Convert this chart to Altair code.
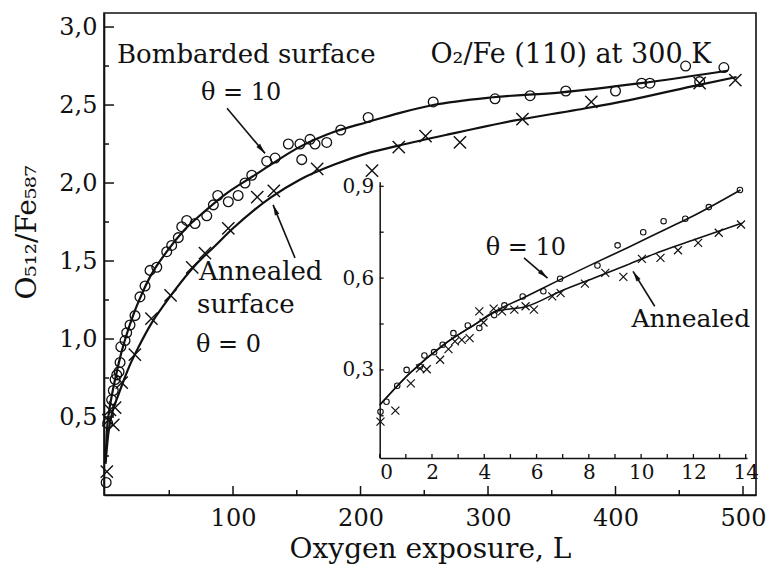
import altair as alt
import pandas as pd

FONT = "DejaVu Serif"
INK = "#111111"
W, H = 652, 482

# ---------- main panel: O512/Fe587 vs oxygen exposure (L) ----------
bomb_exposure = [0.5, 1.7, 4.8, 6.1, 7.5, 8.8, 10.6, 11.4, 12.0, 15.3, 16.6, 19.2, 23.1, 27, 31,
                 34.9, 40.2, 48, 51.9, 57.1, 59.8, 63.7, 70.2, 79.4, 84.6, 88, 96.3, 104, 109.4,
                 114.7, 126.4, 133, 143.4, 152.5, 153.9, 160.4, 164.3, 173.5, 184.5, 206, 257,
                 305.5, 333, 361, 400, 420.5, 427, 455, 466, 485]
bomb_ratio = [0.08, 0.46, 0.61, 0.67, 0.74, 0.77, 0.79, 0.85, 0.95, 0.99, 1.04, 1.09, 1.15, 1.27, 1.34,
              1.44, 1.46, 1.56, 1.60, 1.65, 1.72, 1.76, 1.74, 1.79, 1.86, 1.92, 1.88, 1.92, 2.00,
              2.05, 2.14, 2.16, 2.25, 2.25, 2.15, 2.28, 2.25, 2.26, 2.34, 2.42, 2.52,
              2.54, 2.56, 2.59, 2.59, 2.64, 2.64, 2.75, 2.65, 2.74]

ann_exposure = [1.0, 2.2, 3.5, 6.1, 7.5, 12.7, 23, 36, 51, 68, 78, 96.3, 119, 132, 166, 209,
                230, 251, 278, 327, 381, 466, 494]
ann_ratio = [0.15, 0.48, 0.545, 0.45, 0.56, 0.72, 0.90, 1.13, 1.28, 1.46, 1.55, 1.71, 1.91, 1.95,
             2.09, 2.08, 2.23, 2.30, 2.26, 2.41, 2.52, 2.64, 2.66]

bomb_fit_exposure = [0, 1, 2.5, 5, 8, 12, 17, 22, 28, 35, 48, 62, 78, 96, 115, 130, 152, 180,
                     205, 231, 257, 304, 356, 420, 488]
bomb_fit_ratio = [0.21, 0.40, 0.52, 0.64, 0.76, 0.90, 1.04, 1.16, 1.28, 1.40, 1.56, 1.70, 1.82,
                  1.94, 2.04, 2.12, 2.23, 2.33, 2.39, 2.45, 2.50, 2.55, 2.58, 2.64, 2.72]

ann_fit_exposure = [0, 2, 5, 10, 15, 20, 26, 36, 46, 55, 70, 85, 100, 117, 130, 152, 180, 205,
                    230, 268, 320, 370, 410, 460, 495]
ann_fit_ratio = [0.20, 0.38, 0.52, 0.64, 0.75, 0.85, 0.95, 1.10, 1.22, 1.32, 1.47, 1.59, 1.71,
                 1.83, 1.91, 2.02, 2.12, 2.19, 2.24, 2.31, 2.40, 2.47, 2.53, 2.62, 2.68]

# ---------- inset: first 14 L ----------
in_bomb_exposure = [0.03, 0.26, 0.67, 1.03, 1.54, 1.71, 2.08, 2.41, 2.82, 3.37, 3.81, 4.38, 4.77,
                    5.47, 6.26, 6.90, 8.33, 9.10, 10.08, 10.86, 11.69, 12.59, 13.78]
in_bomb_ratio = [0.163, 0.196, 0.248, 0.300, 0.311, 0.347, 0.358, 0.382, 0.420, 0.445, 0.437, 0.479,
                 0.511, 0.540, 0.557, 0.598, 0.641, 0.707, 0.750, 0.786, 0.794, 0.832, 0.888]

in_ann_exposure = [0.03, 0.60, 1.19, 1.54, 1.80, 2.31, 2.63, 2.88, 3.14, 3.44, 3.81, 3.97, 4.36,
                   4.68, 5.15, 5.58, 5.90, 6.60, 6.92, 7.85, 8.63, 9.32, 10.03, 10.74, 11.41,
                   12.18, 12.97, 13.82]
in_ann_ratio = [0.131, 0.167, 0.256, 0.305, 0.302, 0.333, 0.368, 0.393, 0.398, 0.404, 0.491, 0.455,
                0.500, 0.491, 0.497, 0.508, 0.497, 0.540, 0.551, 0.582, 0.617, 0.604, 0.663,
                0.666, 0.691, 0.715, 0.748, 0.775]

in_bomb_fit_exposure = [0, 1.15, 2.44, 3.72, 4.4, 5.6, 6.9, 8.2, 9.5, 10.8, 12.1, 13.8]
in_bomb_fit_ratio = [0.185, 0.289, 0.382, 0.453, 0.490, 0.540, 0.595, 0.648, 0.700, 0.754, 0.808, 0.888]

in_ann_fit_exposure = [0, 1.15, 2.44, 3.72, 4.4, 5.64, 6.92, 8.2, 9.49, 10.77, 12.05, 13.85]
in_ann_fit_ratio = [0.185, 0.289, 0.382, 0.453, 0.490, 0.508, 0.557, 0.600, 0.644, 0.688, 0.726, 0.779]

# ---------- ticks ----------
main_x_major = [100, 200, 300, 400, 500]
main_x_minor = [50, 150, 250, 350, 450]
main_y_major = [0.5, 1.0, 1.5, 2.0, 2.5, 3.0]
main_y_minor = [0.25, 0.75, 1.25, 1.75, 2.25, 2.75]
in_x_major = [0, 2, 4, 6, 8, 10, 12, 14]
in_x_minor = [1, 3, 5, 7, 9, 11, 13]
in_y_major = [0.3, 0.6, 0.9]
in_y_minor = [0.15, 0.45, 0.75]

# ---------- annotations ----------
main_left_text = pd.DataFrame({
    "x": [9.0, 73.3, 71.8],
    "y": [2.77, 1.378, 1.167],
    "label": ["Bombarded surface", "Annealed", "surface"],
})
main_center_text = pd.DataFrame({
    "x": [365.0],
    "y": [2.77],
    "label": ["O₂/Fe (110) at 300 K"],
})
main_theta_text = pd.DataFrame({
    "x": [106.3, 96.5],
    "y": [2.53, 0.917],
    "label": ["θ = 10", "θ = 0"],
})
main_arrows = pd.DataFrame({
    "x": [95.3, 148.6], "y": [2.48, 1.52],
    "x2": [125.1, 131.4], "y2": [2.19, 1.86],
    "heading": [139.8, 337.5],
})
in_text = pd.DataFrame({
    "x": [5.59, 11.9], "y": [0.677, 0.441], "label": ["θ = 10", "Annealed"],
})
in_arrows = pd.DataFrame({
    "x": [5.52, 10.52], "y": [0.666, 0.508],
    "x2": [6.42, 9.69], "y2": [0.600, 0.622],
    "heading": [130.5, 328.3],
})

CROSS = "M-1,-1L1,1M-1,1L1,-1"
ARROWHEAD = "M0,0L-0.45,2L0.45,2Z"
COMMA = "replace(format(datum.value, '.1f'), '.', ',')"


def series(xs, ys, name):
    return pd.DataFrame({"x": xs, "y": ys, "series": name})


# ---------- main scales / axes ----------
xs_main = alt.Scale(domain=[-1.2, 510.2], nice=False, zero=False)
ys_main = alt.Scale(domain=[0, 3.09], nice=False, zero=False)
x_axis_main = alt.Axis(values=main_x_major, format="d", ticks=False, grid=False,
                       domainColor=INK, domainWidth=1.6, labelFont=FONT, labelFontSize=24,
                       labelColor=INK, labelPadding=11, title="Oxygen exposure, L",
                       titleFont=FONT, titleFontSize=28, titleFontWeight="normal",
                       titleColor=INK, titlePadding=5)
y_axis_main = alt.Axis(values=main_y_major, labelExpr=COMMA, ticks=False, grid=False,
                       domainColor=INK, domainWidth=1.6, labelFont=FONT, labelFontSize=24,
                       labelColor=INK, labelPadding=7, title="O₅₁₂/Fe₅₈₇",
                       titleFont=FONT, titleFontSize=28, titleFontWeight="normal",
                       titleColor=INK, titleAngle=270, titleX=-69, titleY=219,
                       titleAlign="center", titleBaseline="alphabetic")
mx = alt.X("x:Q", scale=xs_main, axis=x_axis_main)
my = alt.Y("y:Q", scale=ys_main, axis=y_axis_main)

main_fits = pd.concat([series(bomb_fit_exposure, bomb_fit_ratio, "bombarded"),
                       series(ann_fit_exposure, ann_fit_ratio, "annealed")])

main_layers = [
    alt.Chart(main_fits).mark_line(interpolate="monotone", color=INK, strokeWidth=2.2)
    .encode(x=mx, y=my, detail="series:N"),
    alt.Chart(series(bomb_exposure, bomb_ratio, "bombarded"))
    .mark_point(shape="circle", filled=False, size=95, color=INK, strokeWidth=1.3, opacity=1)
    .encode(x=mx, y=my),
    alt.Chart(series(ann_exposure, ann_ratio, "annealed"))
    .mark_point(shape=CROSS, filled=False, size=150, color=INK, strokeWidth=1.4, opacity=1)
    .encode(x=mx, y=my),
    alt.Chart(main_arrows).mark_rule(color=INK, strokeWidth=1.6)
    .encode(x=mx, y=my, x2="x2:Q", y2="y2:Q"),
    alt.Chart(main_arrows).mark_point(shape=ARROWHEAD, filled=True, size=110, color=INK, opacity=1)
    .encode(x=alt.X("x2:Q", scale=xs_main, axis=x_axis_main),
            y=alt.Y("y2:Q", scale=ys_main, axis=y_axis_main),
            angle=alt.Angle("heading:Q", scale=None)),
    alt.Chart(main_left_text).mark_text(font=FONT, fontSize=26, color=INK, align="left",
                                        baseline="alphabetic")
    .encode(x=mx, y=my, text="label:N"),
    alt.Chart(main_center_text).mark_text(font=FONT, fontSize=27, color=INK, align="center",
                                          baseline="alphabetic")
    .encode(x=mx, y=my, text="label:N"),
    alt.Chart(main_theta_text).mark_text(font=FONT, fontSize=24, color=INK, align="center",
                                         baseline="alphabetic")
    .encode(x=mx, y=my, text="label:N"),
    # inward ticks of the main frame
    alt.Chart(pd.DataFrame({"x": main_x_major})).mark_rule(color=INK, strokeWidth=1.5)
    .encode(x=mx, y=alt.value(H), y2=alt.value(H - 9)),
    alt.Chart(pd.DataFrame({"x": main_x_minor})).mark_rule(color=INK, strokeWidth=1.5)
    .encode(x=mx, y=alt.value(H), y2=alt.value(H - 5)),
    alt.Chart(pd.DataFrame({"y": main_y_major})).mark_rule(color=INK, strokeWidth=1.5)
    .encode(y=my, x=alt.value(0), x2=alt.value(10)),
    alt.Chart(pd.DataFrame({"y": main_y_minor})).mark_rule(color=INK, strokeWidth=1.5)
    .encode(y=my, x=alt.value(0), x2=alt.value(5)),
]
main = alt.layer(*main_layers)

# ---------- inset scales / axes ----------
IX0, IY0 = 275.7, 445.0
xs_in = alt.Scale(domain=[0, 14.05], range=[IX0, 643.0], nice=False, zero=False)
ys_in = alt.Scale(domain=[0.012, 0.915], range=[IY0, 168.7], nice=False, zero=False)
x_axis_in = alt.Axis(orient="bottom", offset=-(H - IY0), values=in_x_major, format="d",
                     ticks=False, grid=False, domainColor=INK, domainWidth=1.5,
                     labelFont=FONT, labelFontSize=20, labelColor=INK, labelPadding=4,
                     title=None)
y_axis_in = alt.Axis(orient="left", offset=-IX0, values=in_y_major, labelExpr=COMMA,
                     ticks=False, grid=False, domainColor=INK, domainWidth=1.5,
                     labelFont=FONT, labelFontSize=20, labelColor=INK, labelPadding=6,
                     title=None)
ix = alt.X("x:Q", scale=xs_in, axis=x_axis_in)
iy = alt.Y("y:Q", scale=ys_in, axis=y_axis_in)

in_fits = pd.concat([series(in_bomb_fit_exposure, in_bomb_fit_ratio, "bombarded"),
                     series(in_ann_fit_exposure, in_ann_fit_ratio, "annealed")])

inset_layers = [
    alt.Chart(in_fits).mark_line(interpolate="monotone", color=INK, strokeWidth=1.6)
    .encode(x=ix, y=iy, detail="series:N"),
    alt.Chart(series(in_bomb_exposure, in_bomb_ratio, "bombarded"))
    .mark_point(shape="circle", filled=False, size=30, color=INK, strokeWidth=1.1, opacity=1)
    .encode(x=ix, y=iy),
    alt.Chart(series(in_ann_exposure, in_ann_ratio, "annealed"))
    .mark_point(shape=CROSS, filled=False, size=64, color=INK, strokeWidth=1.2, opacity=1)
    .encode(x=ix, y=iy),
    alt.Chart(in_arrows).mark_rule(color=INK, strokeWidth=1.6)
    .encode(x=ix, y=iy, x2="x2:Q", y2="y2:Q"),
    alt.Chart(in_arrows).mark_point(shape=ARROWHEAD, filled=True, size=110, color=INK, opacity=1)
    .encode(x=alt.X("x2:Q", scale=xs_in, axis=x_axis_in),
            y=alt.Y("y2:Q", scale=ys_in, axis=y_axis_in),
            angle=alt.Angle("heading:Q", scale=None)),
    alt.Chart(in_text.iloc[:1]).mark_text(font=FONT, fontSize=24, color=INK, align="center",
                                          baseline="alphabetic")
    .encode(x=ix, y=iy, text="label:N"),
    alt.Chart(in_text.iloc[1:]).mark_text(font=FONT, fontSize=25, color=INK, align="center",
                                          baseline="alphabetic")
    .encode(x=ix, y=iy, text="label:N"),
    alt.Chart(pd.DataFrame({"x": in_x_major + in_x_minor})).mark_rule(color=INK, strokeWidth=1.3)
    .encode(x=ix, y=alt.value(IY0), y2=alt.value(IY0 - 4)),
    alt.Chart(pd.DataFrame({"y": in_y_major + in_y_minor})).mark_rule(color=INK, strokeWidth=1.3)
    .encode(y=iy, x=alt.value(IX0), x2=alt.value(IX0 + 4)),
]
inset = alt.layer(*inset_layers)

chart = (
    alt.layer(main, inset)
    .resolve_scale(x="independent", y="independent")
    .properties(width=W, height=H, autosize="none",
                padding={"left": 104, "top": 13, "right": 13, "bottom": 73},
                background="white")
    .configure_view(stroke=INK, strokeWidth=1.6)
)

chart.save("out.html", embed_options={"renderer": "svg", "actions": False})
